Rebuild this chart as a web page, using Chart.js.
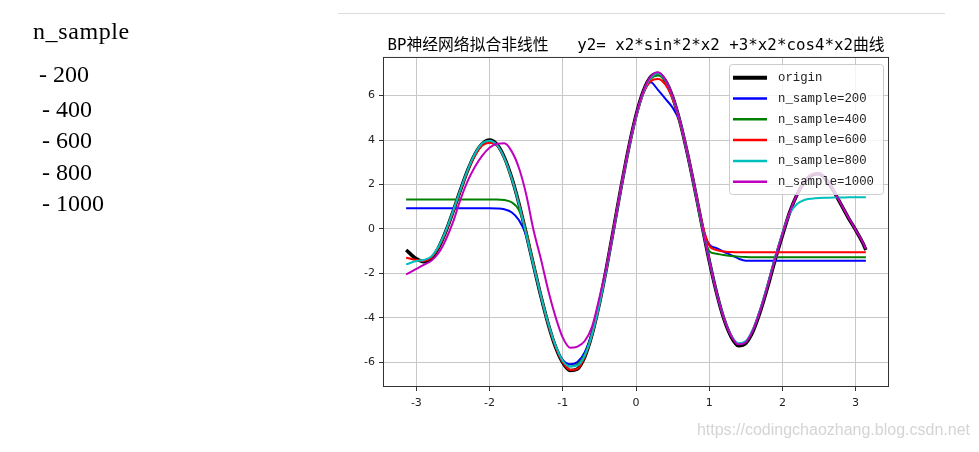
<!DOCTYPE html>
<html>
<head>
<meta charset="utf-8">
<script src="https://cdn.jsdelivr.net/npm/chart.js@4.4.0/dist/chart.umd.min.js"></script>
<style>
body { margin: 0; width: 979px; height: 452px; background: #fff; position: relative; overflow: hidden; }
#chart { position: absolute; left: 0; top: 0; }
.side { position: absolute; font-family: "Liberation Serif", serif; font-size: 24px; line-height: 24px; color: #000; white-space: pre; z-index: 2; }
#rule { position: absolute; left: 338px; top: 13px; width: 607px; height: 1px; background: #dcdcdc; }
#mark { position: absolute; right: 9px; top: 421px; font-family: "Liberation Sans", sans-serif; font-size: 16px; color: #d4d4d4; z-index: 2; }
</style>
</head>
<body>
<div class="side" style="left:33px; top:19px; letter-spacing:0.6px;">n_sample</div>
<div class="side" style="left:39px; top:62px;">- 200</div>
<div class="side" style="left:42px; top:97px;">- 400</div>
<div class="side" style="left:42px; top:128px;">- 600</div>
<div class="side" style="left:42px; top:160px;">- 800</div>
<div class="side" style="left:42px; top:191px;">- 1000</div>
<div id="rule"></div>
<canvas id="chart" width="979" height="452"></canvas>
<div id="mark">https://codingchaozhang.blog.csdn.net</div>
<script>
let xs = [-3.14, -3.0, -2.9, -2.8, -2.7, -2.6, -2.5, -2.4, -2.3, -2.2,
    -2.1, -2.0, -1.9, -1.8, -1.7, -1.6, -1.5, -1.4, -1.3, -1.2,
    -1.1, -1.0, -0.9, -0.8, -0.7, -0.6, -0.5, -0.4, -0.3, -0.2,
    -0.1, 0.0, 0.1, 0.2, 0.3, 0.4, 0.5, 0.6, 0.7, 0.8,
    0.9, 1.0, 1.1, 1.2, 1.3, 1.4, 1.5, 1.6, 1.7, 1.8,
    1.9, 2.0, 2.1, 2.2, 2.3, 2.4, 2.5, 2.6, 2.7, 2.8,
    2.9, 3.0, 3.1, 3.14];

let yOrigin = [-0.95, -1.35, -1.48, -1.34, -0.86, -0.13, 0.77, 1.73, 2.63, 3.36,
    3.83, 4.0, 3.8, 3.23, 2.32, 1.15, -0.21, -1.63, -3.02, -4.28,
    -5.31, -6.02, -6.38, -6.31, -5.76, -4.75, -3.36, -1.7, 0.12, 1.95,
    3.65, 5.11, 6.2, 6.84, 7.0, 6.68, 5.94, 4.83, 3.43, 1.85,
    0.19, -1.43, -2.87, -4.05, -4.86, -5.26, -5.15, -4.6, -3.7, -2.6,
    -1.4, -0.3, 0.75, 1.55, 2.1, 2.42, 2.48, 2.2, 1.7, 1.1,
    0.5, -0.05, -0.65, -0.95];

let y200 = [0.93, 0.93, 0.93, 0.93, 0.93, 0.93, 0.93, 0.93, 0.93, 0.93,
    0.93, 0.93, 0.92, 0.88, 0.75, 0.4, -0.3, -1.65, -3.0, -4.25,
    -5.25, -5.9, -6.1, -6.0, -5.55, -4.65, -3.3, -1.7, 0.1, 1.9,
    3.6, 5.05, 6.1, 6.6, 6.26, 5.86, 5.46, 4.8, 3.4, 1.85,
    0.2, -0.7, -0.87, -1.03, -1.18, -1.34, -1.43, -1.43, -1.43, -1.43,
    -1.43, -1.43, -1.43, -1.43, -1.43, -1.43, -1.43, -1.43, -1.43, -1.43,
    -1.43, -1.43, -1.43, -1.43];

let y400 = [1.32, 1.32, 1.32, 1.32, 1.32, 1.32, 1.32, 1.32, 1.32, 1.32,
    1.32, 1.32, 1.32, 1.3, 1.2, 0.85, -0.1, -1.6, -3.0, -4.25,
    -5.25, -5.95, -6.2, -6.1, -5.65, -4.7, -3.35, -1.7, 0.1, 1.95,
    3.6, 5.05, 6.15, 6.75, 6.9, 6.65, 5.9, 4.8, 3.4, 1.8,
    0.1, -1.0, -1.12, -1.18, -1.22, -1.25, -1.27, -1.28, -1.28, -1.28,
    -1.28, -1.28, -1.28, -1.28, -1.28, -1.28, -1.28, -1.28, -1.28, -1.28,
    -1.28, -1.28, -1.28, -1.28];

let y600 = [-1.3, -1.4, -1.45, -1.3, -0.85, -0.15, 0.75, 1.7, 2.6, 3.3,
    3.75, 3.88, 3.75, 3.2, 2.3, 1.15, -0.2, -1.6, -3.0, -4.28,
    -5.3, -6.0, -6.35, -6.3, -5.75, -4.75, -3.35, -1.7, 0.1, 1.95,
    3.6, 5.05, 6.1, 6.65, 6.75, 6.5, 5.85, 4.8, 3.45, 1.9,
    0.3, -0.75, -0.95, -1.02, -1.04, -1.05, -1.05, -1.05, -1.05, -1.05,
    -1.05, -1.05, -1.05, -1.05, -1.05, -1.05, -1.05, -1.05, -1.05, -1.05,
    -1.05, -1.05, -1.05, -1.05];

let y800 = [-1.6, -1.45, -1.4, -1.25, -0.8, -0.1, 0.8, 1.75, 2.65, 3.38,
    3.85, 3.97, 3.78, 3.2, 2.3, 1.12, -0.25, -1.65, -3.0, -4.25,
    -5.25, -5.95, -6.2, -6.15, -5.7, -4.75, -3.4, -1.75, 0.05, 1.9,
    3.6, 5.05, 6.15, 6.8, 7.0, 6.7, 5.95, 4.85, 3.45, 1.85,
    0.2, -1.4, -2.85, -4.0, -4.8, -5.15, -5.05, -4.5, -3.6, -2.5,
    -1.3, -0.2, 0.7, 1.12, 1.3, 1.36, 1.39, 1.4, 1.41, 1.41,
    1.42, 1.42, 1.42, 1.42];

let y1000 = [-2.05, -1.8, -1.62, -1.45, -1.1, -0.5, 0.3, 1.3, 2.15, 2.8,
    3.3, 3.65, 3.83, 3.85, 3.5, 2.75, 1.55, -0.05, -1.35, -2.75,
    -3.95, -4.9, -5.35, -5.3, -5.05, -4.4, -3.1, -1.65, 0.1, 1.95,
    3.65, 5.1, 6.2, 6.85, 7.05, 6.72, 5.97, 4.85, 3.45, 1.87,
    0.2, -1.42, -2.86, -4.02, -4.82, -5.2, -5.1, -4.55, -3.65, -2.55,
    -1.35, -0.25, 0.75, 1.55, 2.1, 2.45, 2.5, 2.22, 1.72, 1.12,
    0.52, -0.05, -0.62, -0.9];

let xTicks = [-3, -2, -1, 0, 1, 2, 3];
let yTicks = [-6, -4, -2, 0, 2, 4, 6];
let legendLabels = ["origin", "n_sample=200", "n_sample=400", "n_sample=600", "n_sample=800", "n_sample=1000"];
let lineColors = ["#000000", "#0000ff", "#008000", "#ff0000", "#00bfbf", "#bf00bf"];
let allSeries = [yOrigin, y200, y400, y600, y800, y1000];


function toPoints(ys) {
    return xs.map((x, i) => ({ x: x, y: ys[i] }));
}

let datasets = allSeries.map((ys, i) => ({
    label: legendLabels[i],
    data: toPoints(ys),
    borderColor: lineColors[i],
    borderWidth: i == 0 ? 3.5 : 2,
    pointRadius: 0,
    fill: false,
    cubicInterpolationMode: "monotone",
    order: allSeries.length - i
}));

// box round the plot and the legend in the upper right corner
let frameAndLegend = {
    id: "frameAndLegend",
    afterDraw(chart) {
        let ctx = chart.ctx;
        let a = chart.chartArea;
        ctx.save();
        ctx.strokeStyle = "#333";
        ctx.lineWidth = 1;
        ctx.strokeRect(a.left + 0.5, a.top + 0.5, a.right - a.left - 1, a.bottom - a.top - 1);

        let bx = 729, by = 64, bw = 154, bh = 130;
        ctx.fillStyle = "rgba(255,255,255,0.8)";
        ctx.strokeStyle = "#cccccc";
        ctx.beginPath();
        ctx.roundRect(bx + 0.5, by + 0.5, bw, bh, 3);
        ctx.fill();
        ctx.stroke();

        ctx.font = "12.3px 'Liberation Mono', monospace";
        ctx.textBaseline = "middle";
        legendLabels.forEach((lab, i) => {
            let yy = 77.7 + i * 20.8;
            ctx.strokeStyle = lineColors[i];
            ctx.lineWidth = i == 0 ? 4 : 2.5;
            ctx.beginPath();
            ctx.moveTo(733, yy);
            ctx.lineTo(767, yy);
            ctx.stroke();
            ctx.fillStyle = "#222";
            ctx.fillText(lab, 778, yy);
        });
        ctx.restore();
    }
};

let tickFont = { family: "'DejaVu Sans', sans-serif", size: 11 };

let chartConfig = {
    type: "line",
    data: { datasets: datasets },
    options: {
        responsive: false,
        animation: false,
        layout: { padding: { left: 343, right: 90, top: 0, bottom: 35 } },
        plugins: {
            legend: { display: false },
            tooltip: { enabled: false },
            title: {
                display: true,
                fullSize: false,
                text: "BP神经网络拟合非线性   y2= x2*sin*2*x2 +3*x2*cos4*x2曲线",
                color: "#000",
                font: { family: "'DejaVu Sans Mono', 'Noto Sans CJK SC', sans-serif", size: 15.8, weight: "normal", lineHeight: 1.2 },
                padding: { top: 36, bottom: 2 }
            }
        },
        scales: {
            x: {
                type: "linear",
                min: -3.456,
                max: 3.456,
                afterBuildTicks: s => { s.ticks = xTicks.map(v => ({ value: v })); },
                afterFit: s => { s.height = 30; },
                grid: { color: "#c8c8c8", tickColor: "#333", tickLength: 4 },
                border: { display: false },
                ticks: { font: tickFont, color: "#222", padding: 6, maxRotation: 0 }
            },
            y: {
                type: "linear",
                min: -7.12,
                max: 7.74,
                afterBuildTicks: s => { s.ticks = yTicks.map(v => ({ value: v })); },
                afterFit: s => { s.width = 40; },
                grid: { color: "#c8c8c8", tickColor: "#333", tickLength: 4 },
                border: { display: false },
                ticks: { font: tickFont, color: "#222", padding: 4 }
            }
        }
    },
    plugins: [frameAndLegend]
};

let chartEl = document.getElementById("chart");
let lineChart = new Chart(chartEl, chartConfig);
</script>
</body>
</html>
